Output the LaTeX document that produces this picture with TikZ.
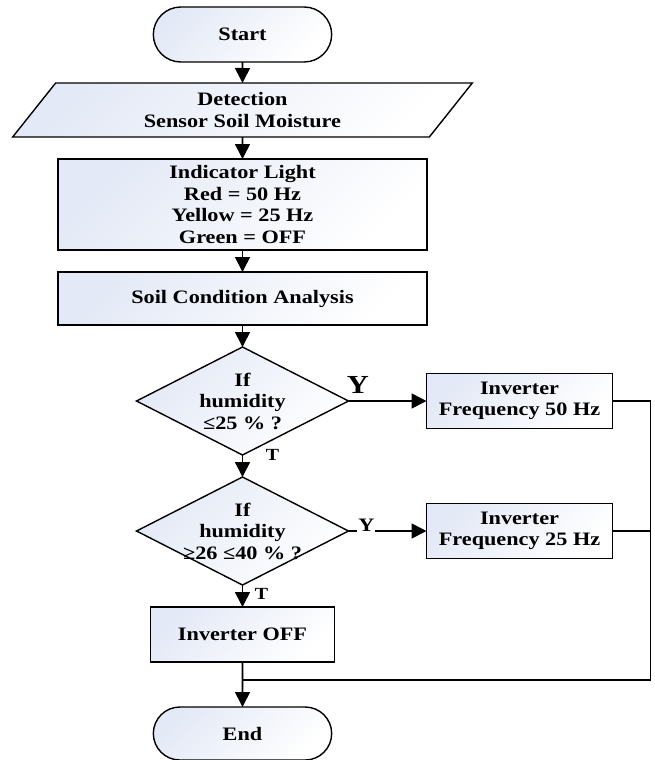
\documentclass[tikz,border=0pt]{standalone}
\usepackage{fontspec}
\setmainfont{Liberation Serif}[FakeStretch=1.17]
\usepackage{tikz}
\usetikzlibrary{positioning,shapes.geometric,shapes.misc,arrows.meta}
\definecolor{boxshade}{HTML}{E3E9F6}
\tikzset{node distance=22pt, auto,
  every node/.style={font=\fontsize{19}{21.5}\selectfont\bfseries},
  shaded/.style={draw, line width=1.4pt, outer sep=0pt, top color=boxshade, bottom color=white, shading angle=45},
  term/.style={shaded, rounded rectangle, minimum width=185pt, minimum height=55pt},
  io/.style={shaded, trapezium, trapezium left angle=57, trapezium right angle=123,
    trapezium stretches=true, minimum width=460pt, minimum height=54pt, align=center, inner sep=0pt},
  proc/.style={shaded, rectangle, align=center, inner sep=0pt},
  dec/.style={shaded, diamond, inner sep=0pt, minimum width=212pt, minimum height=108pt},
  dtxt/.style={align=center, inner sep=0pt},
  line/.style={line width=1.6pt},
  flow/.style={line, -{Triangle[length=15pt,width=15pt]}},
  ylab/.style={anchor=center, font=\fontsize{26}{26}\selectfont\bfseries},
  tlab/.style={anchor=center, font=\fontsize{17}{17}\selectfont\bfseries}
}

\begin{document}
\begin{tikzpicture}[x=1pt,y=-1pt]
  \useasboundingbox (0,0) rectangle (655,760);

  \node[term] (St) at (242.5,34.5) {Start};
  \node[io, below=21pt of St] (Det) {Detection\\Sensor Soil Moisture};
  \node[proc, below=of Det, minimum width=369pt, minimum height=91pt] (Ind)
    {Indicator Light\\Red = 50 Hz\\Yellow = 25 Hz\\Green = OFF};
  \node[proc, below=of Ind, minimum width=369pt, minimum height=53pt] (An) {Soil Condition Analysis};
  \node[dec, below=of An] (D1) {};
  \node[dtxt] (D1t) at (D1) {If\\humidity\\≤25 \% ?};
  \node[dec, below=of D1] (D2) {};
  \node[dtxt] (D2t) at (D2) {If\\humidity\\≥26 ≤40 \% ?};
  \node[proc, below=of D2, minimum width=184pt, minimum height=55pt] (Off) {Inverter OFF};
  \node[term, below=45pt of Off, minimum height=53pt] (En) {End};
  \node[proc, right=78pt of D1, minimum width=186pt, minimum height=55pt] (F50) {Inverter\\Frequency 50 Hz};
  \node[proc, right=78pt of D2, minimum width=186pt, minimum height=55pt] (F25) {Inverter\\Frequency 25 Hz};
  \coordinate[below=18pt of Off] (M);

  \draw[flow] (St) to (Det);
  \draw[flow] (Det) to (Ind);
  \draw[flow] (Ind) to (An);
  \draw[flow] (An) to (D1);
  \draw[flow] (D1) to node[ylab, pos=.12, yshift=16pt] {Y} (F50);
  \draw[flow] (D1) to node[tlab, pos=0, xshift=30pt] {T} (D2);
  \draw[flow] (D2) to node[ylab, pos=.23, yshift=6pt, fill=white, inner sep=1pt,
    font=\fontsize{19}{19}\selectfont\bfseries] {Y} (F25);
  \draw[flow] (D2) to node[tlab, pos=.4, xshift=19pt] {T} (Off);
  \draw[flow] (Off) to (En);
  \draw[line] (F50.east) -- ++(38pt,0) |- (M);
  \draw[line] (F25.east) -- ++(38pt,0);

\end{tikzpicture}
\end{document}
